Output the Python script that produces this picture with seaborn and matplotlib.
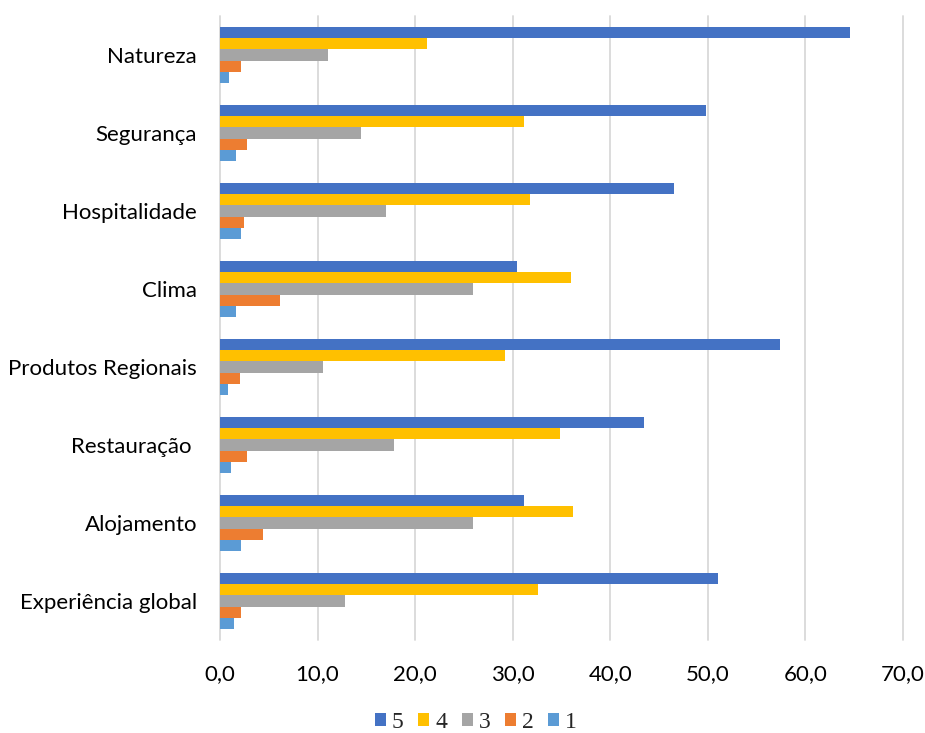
import matplotlib
matplotlib.use("Agg")
import matplotlib.pyplot as plt
import pandas as pd
import seaborn as sns

# Rating shares (%) per aspect, for scores 5 down to 1
categories = [
    "Natureza",
    "Segurança",
    "Hospitalidade",
    "Clima",
    "Produtos Regionais",
    "Restauração ",
    "Alojamento",
    "Experiência global",
]
score_5 = [64.6, 49.8, 46.5, 30.4, 57.4, 43.5, 31.2, 51.0]
score_4 = [21.2, 31.2, 31.8, 36.0, 29.2, 34.8, 36.2, 32.6]
score_3 = [11.1, 14.5, 17.0, 25.9, 10.6, 17.8, 25.9, 12.8]
score_2 = [2.2, 2.8, 2.5, 6.1, 2.0, 2.8, 4.4, 2.2]
score_1 = [0.9, 1.6, 2.2, 1.6, 0.8, 1.1, 2.2, 1.4]

score_labels = ["5", "4", "3", "2", "1"]
score_colors = ["#4472C4", "#FFC000", "#A5A5A5", "#ED7D31", "#5B9BD5"]

x_ticks = [0, 10, 20, 30, 40, 50, 60, 70]
x_tick_labels = ["0,0", "10,0", "20,0", "30,0", "40,0", "50,0", "60,0", "70,0"]

series = dict(zip(score_labels, [score_5, score_4, score_3, score_2, score_1]))
df = pd.DataFrame(
    [
        {"aspect": cat, "score": lab, "value": vals[i]}
        for lab, vals in series.items()
        for i, cat in enumerate(categories)
    ]
)

sns.set_theme(style="white")
plt.rcParams["font.family"] = ["Lato", "DejaVu Sans"]

fig = plt.figure(figsize=(9.25, 7.33), dpi=100)
ax = fig.add_axes([220 / 925, 1 - 640 / 733, 683 / 925, 624 / 733])

sns.barplot(
    data=df,
    x="value",
    y="aspect",
    hue="score",
    order=categories,
    hue_order=score_labels,
    palette=score_colors,
    orient="h",
    width=0.725,
    gap=0,
    linewidth=0,
    saturation=1,
    ax=ax,
)

ax.set_xlim(0, 70)
ax.set_ylim(len(categories) - 0.5, -0.5)
ax.set_xticks(x_ticks)
ax.set_xticklabels(x_tick_labels)
ax.set_xlabel("")
ax.set_ylabel("")

ax.set_axisbelow(True)
ax.grid(axis="x", color="#D9D9D9", linewidth=1.3)
ax.grid(axis="y", visible=False)
for gl in ax.get_xgridlines():
    gl.set_clip_on(False)
for side in ["top", "right", "bottom", "left"]:
    ax.spines[side].set_visible(False)

ax.tick_params(axis="x", length=0, pad=17.5, labelsize=16, labelcolor="#000000")
ax.tick_params(axis="y", length=0, pad=16.5, labelsize=16, labelcolor="#000000")

handles, labels = ax.get_legend_handles_labels()
ax.legend_.remove()
fig.legend(
    handles,
    labels,
    loc="center",
    bbox_to_anchor=(476 / 925, 1 - 722 / 733),
    ncol=5,
    frameon=False,
    prop={"family": "Liberation Serif", "size": 17},
    handlelength=0.47,
    handleheight=0.47,
    handletextpad=0.25,
    columnspacing=0.62,
    borderpad=0,
)

fig.savefig("out.png", dpi=100)
